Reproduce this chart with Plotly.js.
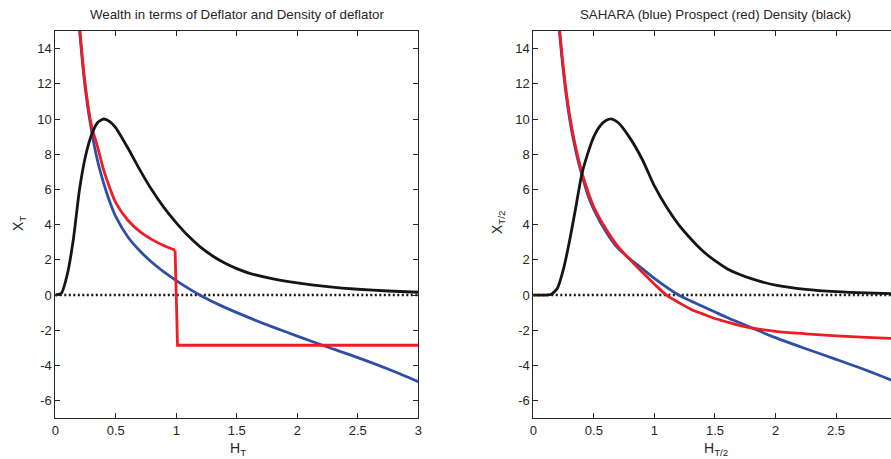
<!DOCTYPE html>
<html>
<head>
<meta charset="utf-8">
<script src="https://cdn.plot.ly/plotly-3.0.1.min.js"></script>
<style>
  html, body { margin: 0; padding: 0; background: #ffffff; }
  #chart { width: 891px; height: 459px; }
</style>
</head>
<body>
<div id="chart"></div>
<script>
// ---------- Left panel: wealth vs deflator H_T ----------
const hLeftWealth = [0.18, 0.2, 0.25, 0.3, 0.35, 0.4, 0.45, 0.5, 0.6, 0.7, 0.8, 0.9, 1.0, 1.1, 1.2, 1.4, 1.6, 1.8, 2.0, 2.25, 2.5, 2.75, 3.0];
const blueLeft    = [17.0, 15.1, 11.6, 9.3, 7.6, 6.35, 5.3, 4.45, 3.3, 2.5, 1.85, 1.3, 0.82, 0.38, -0.02, -0.7, -1.28, -1.82, -2.33, -2.95, -3.55, -4.2, -4.92];

const hLeftRed = [0.18, 0.2, 0.25, 0.3, 0.35, 0.4, 0.45, 0.5, 0.6, 0.7, 0.8, 0.9, 0.99, 1.01, 3.0];
const redLeft  = [17.2, 15.3, 11.8, 9.6, 8.4, 7.1, 6.1, 5.25, 4.25, 3.6, 3.15, 2.8, 2.55, -2.85, -2.85];
const redLeftJump = 12; // index where the red curve drops to the flat floor

const hLeftDensity = [0, 0.05, 0.1, 0.15, 0.2, 0.25, 0.3, 0.35, 0.4, 0.45, 0.5, 0.6, 0.7, 0.8, 0.9, 1.0, 1.1, 1.2, 1.3, 1.4, 1.5, 1.6, 1.8, 2.0, 2.25, 2.5, 2.75, 3.0];
const densityLeft  = [0, 0.1, 1.2, 3.2, 6.0, 7.9, 9.1, 9.8, 10.0, 9.85, 9.5, 8.35, 7.1, 5.95, 4.95, 4.1, 3.35, 2.72, 2.22, 1.82, 1.5, 1.25, 0.92, 0.69, 0.48, 0.33, 0.23, 0.16];

// ---------- Right panel: SAHARA / Prospect / Density vs H_{T/2} ----------
const hRightWealth = [0.18, 0.2, 0.25, 0.3, 0.35, 0.4, 0.45, 0.5, 0.6, 0.7, 0.8, 0.9, 1.0, 1.1, 1.2, 1.3, 1.4, 1.5, 1.6, 1.7, 1.8, 2.0, 2.25, 2.5, 2.75, 3.0];
const blueRight = [18.5, 16.3, 12.6, 10.0, 8.2, 6.85, 5.7, 4.85, 3.6, 2.65, 2.05, 1.5, 0.95, 0.45, 0.0, -0.33, -0.65, -0.96, -1.27, -1.56, -1.85, -2.42, -3.05, -3.65, -4.27, -4.95];
const redRight  = [18.7, 16.5, 12.8, 10.2, 8.4, 7.0, 5.9, 5.0, 3.75, 2.75, 2.0, 1.3, 0.62, 0.0, -0.42, -0.8, -1.07, -1.33, -1.53, -1.72, -1.87, -2.06, -2.2, -2.32, -2.4, -2.47];

const hRightDensity = [0, 0.1, 0.15, 0.2, 0.25, 0.3, 0.35, 0.4, 0.45, 0.5, 0.55, 0.6, 0.65, 0.7, 0.8, 0.9, 1.0, 1.1, 1.2, 1.3, 1.4, 1.5, 1.6, 1.7, 1.8, 2.0, 2.25, 2.5, 2.75, 3.0];
const densityRight  = [0, 0, 0.05, 0.4, 1.5, 3.1, 4.95, 6.85, 8.05, 9.0, 9.6, 9.92, 10.0, 9.8, 8.9, 7.7, 6.2, 5.0, 4.0, 3.2, 2.5, 1.95, 1.5, 1.18, 0.93, 0.56, 0.32, 0.19, 0.12, 0.08];

// zero reference line
const zeroH = [0, 3];
const zeroY = [0, 0];

// ticks and labels
const xTickVals = [0, 0.5, 1, 1.5, 2, 2.5, 3];
const xTickLabels = ['0', '0.5', '1', '1.5', '2', '2.5', '3'];
const yTickVals = [-6, -4, -2, 0, 2, 4, 6, 8, 10, 12, 14];
const yTickLabels = ['-6', '-4', '-2', '0', '2', '4', '6', '8', '10', '12', '14'];

const leftTitle = 'Wealth in terms of Deflator and Density of deflator';
const rightTitle = 'SAHARA (blue) Prospect (red) Density (black)';

const BLUE = '#2e4fa3';
const RED = '#ee1c24';
const BLACK = '#151515';
const LW = 2.8;

function line(x, y, color, xa, ya, opts) {
  opts = opts || {};
  return {
    type: 'scatter', mode: 'lines', x: x, y: y, xaxis: xa, yaxis: ya,
    line: {
      color: color,
      width: opts.dash ? 2.4 : LW,
      dash: opts.dash || 'solid',
      shape: opts.smooth ? 'spline' : 'linear',
      smoothing: opts.smooth || 0
    },
    hoverinfo: 'skip', showlegend: false
  };
}

const traces = [
  line(zeroH, zeroY, BLACK, 'x', 'y', { dash: '2px,2.5px' }),
  line(hLeftWealth, blueLeft, BLUE, 'x', 'y', { smooth: 0.8 }),
  line(hLeftRed.slice(0, redLeftJump + 1), redLeft.slice(0, redLeftJump + 1), RED, 'x', 'y', { smooth: 0.8 }),
  line(hLeftRed.slice(redLeftJump), redLeft.slice(redLeftJump), RED, 'x', 'y'),
  line(hLeftDensity, densityLeft, BLACK, 'x', 'y', { smooth: 0.6 }),
  line(zeroH, zeroY, BLACK, 'x2', 'y2', { dash: '2px,2.5px' }),
  line(hRightWealth, blueRight, BLUE, 'x2', 'y2', { smooth: 0.8 }),
  line(hRightWealth, redRight, RED, 'x2', 'y2', { smooth: 0.8 }),
  line(hRightDensity, densityRight, BLACK, 'x2', 'y2', { smooth: 0.6 })
];

const W = 891, H = 459;
const AX = '#262626';
const FONT = 'Liberation Sans, Arial, Helvetica, sans-serif';
const tickFont = { family: FONT, size: 13, color: AX };

function xAxis(domain, range, anchor) {
  return {
    domain: domain, range: range, anchor: anchor,
    tickvals: xTickVals, ticktext: xTickLabels,
    ticks: 'inside', ticklen: 5, tickwidth: 1, tickcolor: AX,
    showline: true, linecolor: AX, linewidth: 1, mirror: 'ticks',
    showgrid: false, zeroline: false, tickfont: tickFont, fixedrange: true
  };
}
function yAxis(domain, anchor, mirror) {
  return {
    domain: domain, range: [-7, 15], anchor: anchor,
    tickvals: yTickVals, ticktext: yTickLabels,
    ticks: 'inside', ticklen: 5, tickwidth: 1, tickcolor: AX,
    showline: true, linecolor: AX, linewidth: 1, mirror: mirror,
    showgrid: false, zeroline: false, tickfont: tickFont, fixedrange: true
  };
}

const yDom = [(H - 418.3) / H, (H - 31) / H];

const layout = {
  width: W, height: H,
  margin: { l: 0, r: 0, t: 0, b: 0 },
  paper_bgcolor: '#ffffff', plot_bgcolor: '#ffffff',
  showlegend: false,
  xaxis: xAxis([55.3 / W, 418.3 / W], [0, 3], 'y'),
  yaxis: yAxis(yDom, 'x', 'ticks'),
  xaxis2: xAxis([533.3 / W, 1], [0, (891 - 533.3) / 121.1], 'y2'),
  yaxis2: yAxis(yDom, 'x2', false),
  annotations: [
    { text: leftTitle, xref: 'paper', yref: 'paper', x: 236.5 / W, y: 1 - 15 / H,
      xanchor: 'center', yanchor: 'middle', showarrow: false, font: { family: FONT, size: 13.3, color: AX } },
    { text: rightTitle, xref: 'paper', yref: 'paper', x: 715.3 / W, y: 1 - 15 / H,
      xanchor: 'center', yanchor: 'middle', showarrow: false, font: { family: FONT, size: 13.3, color: AX } },
    { text: 'H<sub>T</sub>', xref: 'paper', yref: 'paper', x: 238 / W, y: 1 - 449 / H,
      xanchor: 'center', yanchor: 'middle', showarrow: false, font: { family: FONT, size: 14, color: AX } },
    { text: 'H<sub>T/2</sub>', xref: 'paper', yref: 'paper', x: 716 / W, y: 1 - 449 / H,
      xanchor: 'center', yanchor: 'middle', showarrow: false, font: { family: FONT, size: 14, color: AX } },
    { text: 'X<sub>T</sub>', xref: 'paper', yref: 'paper', x: 19 / W, y: 1 - 224 / H, textangle: -90,
      xanchor: 'center', yanchor: 'middle', showarrow: false, font: { family: FONT, size: 14, color: AX } },
    { text: 'X<sub>T/2</sub>', xref: 'paper', yref: 'paper', x: 498 / W, y: 1 - 222 / H, textangle: -90,
      xanchor: 'center', yanchor: 'middle', showarrow: false, font: { family: FONT, size: 14, color: AX } }
  ]
};

Plotly.newPlot('chart', traces, layout, { staticPlot: true, displayModeBar: false });
</script>
</body>
</html>
